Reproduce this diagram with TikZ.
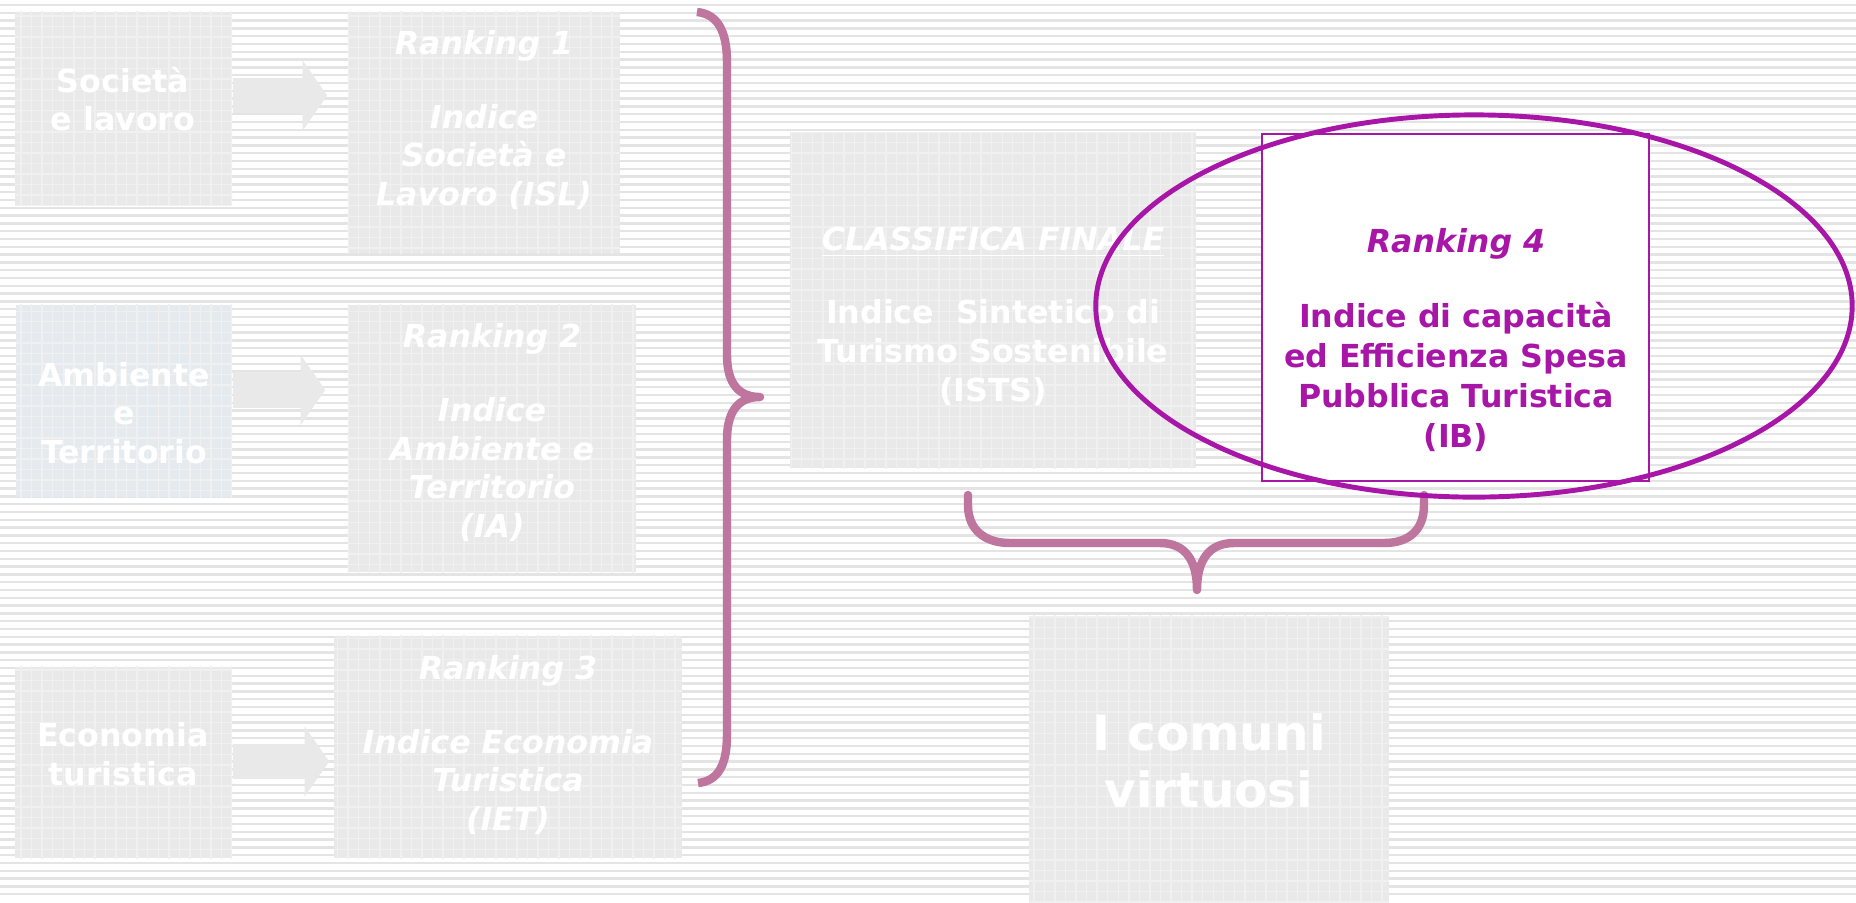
\documentclass[tikz,border=0pt]{standalone}
\usepackage{fontspec}
\setmainfont{DejaVu Sans}
\usetikzlibrary{arrows.meta,patterns}

\definecolor{boxgray}{RGB}{233,233,233}
\definecolor{boxblue}{RGB}{229,234,239}
\definecolor{stripe}{RGB}{228,228,228}
\definecolor{bracecol}{RGB}{190,118,158}
\definecolor{violet4}{RGB}{168,22,168}

\tikzset{
  greybox/.style={fill=boxgray, postaction={pattern=grid, pattern color=black!6}, inner sep=0pt},
  boxtext/.style={text=white, font=\bfseries\fontsize{9}{11}\selectfont, align=center},
  blockarrow/.style={draw=boxgray, line width=10pt, -{Triangle[length=7pt,width=20pt,line width=0pt]}},
  bracket/.style={draw=bracecol, line width=2.4pt, line join=round},
}

\begin{document}
\begin{tikzpicture}[x=0.01cm, y=-0.01cm]
  \useasboundingbox (0,0) rectangle (1856,902);
  \fill[white] (0,0) rectangle (1856,902);
  \foreach \y in {5,12.8,...,900}
    \draw[stripe, line width=0.7pt] (0,\y) -- (1856,\y);

  % the three themes
  \node[greybox, minimum width=2.17cm, minimum height=1.93cm] (soc) at (123.5,108.5) {};
  \node[greybox, fill=boxblue, minimum width=2.16cm, minimum height=1.92cm] (amb) at (124,401) {};
  \node[greybox, minimum width=2.17cm, minimum height=1.91cm] (eco) at (123.5,762.5) {};
  \node[boxtext] (socT) at (123,99) {Società\\e lavoro};
  \node[boxtext] (ambT) at (124,413) {Ambiente\\e\\Territorio};
  \node[boxtext] (ecoT) at (123,754) {Economia\\turistica};

  % rankings
  \node[greybox, minimum width=2.72cm, minimum height=2.41cm] (rk1) at (484,132.5) {};
  \node[greybox, minimum width=2.88cm, minimum height=2.67cm] (rk2) at (492,438.5) {};
  \node[greybox, minimum width=3.48cm, minimum height=2.22cm] (rk3) at (508,747) {};
  \node[boxtext, font=\bfseries\itshape\fontsize{9}{11}\selectfont] (rk1T) at (484,120)
    {Ranking 1\\[10pt]Indice\\Società e\\Lavoro (ISL)};
  \node[boxtext, font=\bfseries\itshape\fontsize{9}{11}\selectfont] (rk2T) at (492,432.5)
    {Ranking 2\\[10pt]Indice\\Ambiente e\\Territorio\\(IA)};
  \node[boxtext, font=\bfseries\itshape\fontsize{9}{11}\selectfont] (rk3T) at (508,745)
    {Ranking 3\\[10pt]Indice Economia\\Turistica\\(IET)};

  \coordinate (a1) at ([yshift=0.13cm]soc.east);
  \coordinate (a2) at ([yshift=0.11cm]amb.east);
  \coordinate (a3) at ([yshift=0.01cm]eco.east);
  \draw[blockarrow, shorten >=0.2cm] (a1) -- (a1 -| rk1.west);
  \draw[blockarrow, shorten >=0.22cm] (a2) -- (a2 -| rk2.west);
  \draw[blockarrow, shorten >=0.04cm] (a3) -- (a3 -| rk3.west);

  % final ranking and result
  \node[greybox, minimum width=4.06cm, minimum height=3.35cm] (fin) at (993,300.5) {};
  \node[boxtext] (finT) at (993,316)
    {{\itshape\underline{CLASSIFICA FINALE}}\\[10pt]Indice\ \ Sintetico di\\Turismo Sostenibile\\(ISTS)};
  \node[greybox, minimum width=3.60cm, minimum height=2.86cm] (vir) at (1209,759) {};
  \node[boxtext, font=\bfseries\fontsize{13.8}{16.2}\selectfont] (virT) at (1209,761) {I comuni\\virtuosi};

  % braces
  \draw[bracket] (697,12) .. controls (718,14) and (727,32) .. (727,62) -- (727,355)
    .. controls (727,385) and (740,397) .. (760,397)
    .. controls (740,397) and (727,409) .. (727,440) -- (727,735)
    .. controls (727,765) and (718,781) .. (698,783);
  \draw[bracket, line cap=round] (968,495) -- (968,505) .. controls (968,530) and (985,543) .. (1010,543)
    -- (1160,543) .. controls (1185,543) and (1197,560) .. (1197,590)
    .. controls (1197,560) and (1209,543) .. (1234,543) -- (1384,543)
    .. controls (1409,543) and (1424,530) .. (1424,505) -- (1424,495);

  % ranking 4
  \node[fill=white, draw=violet4, line width=0.6pt, minimum width=3.87cm, minimum height=3.47cm] (rk4) at (1455.5,307.5) {};
  \node[boxtext, text=violet4, font=\bfseries\fontsize{9}{11.3}\selectfont] (rk4T) at (1456,340)
    {{\itshape Ranking 4}\\[10pt]Indice di capacità\\ed Efficienza Spesa\\Pubblica Turistica\\(IB)};
  \draw[violet4, line width=1.4pt] (1474,306) ellipse [x radius=3.78cm, y radius=1.91cm];
\end{tikzpicture}
\end{document}
